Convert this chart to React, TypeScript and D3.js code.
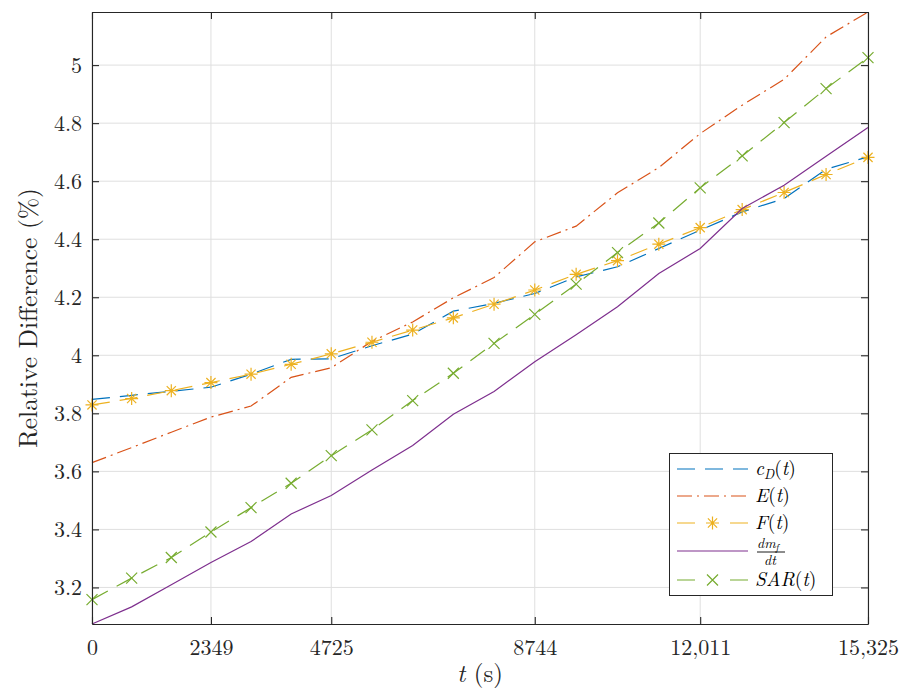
import React from 'react';
import * as d3 from 'd3';

const owidth = 905;
const oheight = 693;
const margin = { left: 92, right: 37, top: 12, bottom: 69 };
const iwidth = owidth - margin.left - margin.right;
const iheight = oheight - margin.top - margin.bottom;

// sample times (s)
const times = [0, 783, 1566, 2349, 3141, 3933, 4725, 5529, 6333, 7136, 7940, 8744,
  9561, 10378, 11194, 12011, 12840, 13668, 14497, 15325];
const xTickValues = [0, 2349, 4725, 8744, 12011, 15325];
const xTickLabels = ['0', '2349', '4725', '8744', '12,011', '15,325'];
const yTickValues = [3.2, 3.4, 3.6, 3.8, 4, 4.2, 4.4, 4.6, 4.8, 5];

const cD = [3.848, 3.862, 3.876, 3.89, 3.935, 3.986, 3.988, 4.033, 4.073, 4.152, 4.179, 4.213,
  4.27, 4.305, 4.368, 4.431, 4.494, 4.54, 4.641, 4.684];
const E = [3.63, 3.682, 3.735, 3.787, 3.825, 3.924, 3.957, 4.048, 4.115, 4.198, 4.268, 4.391,
  4.445, 4.56, 4.647, 4.764, 4.862, 4.951, 5.097, 5.183];
const F = [3.829, 3.851, 3.878, 3.906, 3.935, 3.969, 4.005, 4.045, 4.087, 4.129, 4.176, 4.225,
  4.279, 4.326, 4.383, 4.44, 4.502, 4.561, 4.623, 4.682];
const dmdt = [3.074, 3.133, 3.209, 3.286, 3.358, 3.453, 3.517, 3.605, 3.689, 3.797, 3.875, 3.978,
  4.071, 4.167, 4.282, 4.368, 4.506, 4.586, 4.686, 4.785];
const SAR = [3.158, 3.232, 3.303, 3.391, 3.475, 3.559, 3.654, 3.743, 3.844, 3.938, 4.041, 4.141,
  4.245, 4.354, 4.456, 4.577, 4.687, 4.802, 4.919, 5.026];

const blue = '#0072BD';
const red = '#D95319';
const yellow = '#EDB120';
const purple = '#7E2F8E';
const green = '#77AC30';
const axisColor = '#262626';
const serif = '"Latin Modern Roman", "Liberation Serif", serif';
const fontStyle = { fontFamily: serif };

const dashed = '18 10';
const dashDot = '15 5 2 5';

const series = [
  { key: 'cD', values: cD, color: blue, dash: dashed, marker: null },
  { key: 'E', values: E, color: red, dash: dashDot, marker: null },
  { key: 'F', values: F, color: yellow, dash: dashed, marker: 'star' },
  { key: 'dmdt', values: dmdt, color: purple, dash: null, marker: null },
  { key: 'SAR', values: SAR, color: green, dash: dashed, marker: 'x' },
];

const allValues = [...cD, ...E, ...F, ...dmdt, ...SAR];

const xScale = d3.scaleLinear().domain([0, d3.max(times)]).range([0, iwidth]);
const yScale = d3.scaleLinear().domain(d3.extent(allValues)).range([iheight, 0]);

function starPath(r) {
  const d = r * Math.SQRT1_2;
  return `M${-r},0L${r},0M0,${-r}L0,${r}M${-d},${-d}L${d},${d}M${-d},${d}L${d},${-d}`;
}
function crossPath(r) {
  return `M${-r},${-r}L${r},${r}M${-r},${r}L${r},${-r}`;
}

function Marker({ type, x, y, color }) {
  if (!type) return null;
  const d = type === 'star' ? starPath(6.5) : crossPath(5.5);
  return <path d={d} transform={`translate(${x},${y})`} stroke={color} strokeWidth={1.2} fill="none" />;
}

function LegendLabel({ k, x, y }) {
  const it = { fontStyle: 'italic' };
  if (k === 'cD') {
    return (
      <text x={x} y={y} fontSize={19.5} style={fontStyle}>
        <tspan style={it}>c</tspan>
        <tspan style={it} fontSize={13.5} dy={3.5}>D</tspan>
        <tspan dy={-3.5}>(</tspan><tspan style={it}>t</tspan><tspan>)</tspan>
      </text>
    );
  }
  if (k === 'E' || k === 'F' || k === 'SAR') {
    return (
      <text x={x} y={y} fontSize={19.5} style={fontStyle}>
        <tspan style={it}>{k}</tspan><tspan>(</tspan><tspan style={it}>t</tspan><tspan>)</tspan>
      </text>
    );
  }
  // fraction dm_f / dt
  return (
    <g>
      <text x={x + 2} y={y - 9} fontSize={14} style={fontStyle}>
        <tspan style={it}>dm</tspan>
        <tspan style={it} fontSize={10} dy={2.5}>f</tspan>
      </text>
      <line x1={x + 2} x2={x + 30} y1={y - 5} y2={y - 5} stroke="#000" strokeWidth={0.9} />
      <text x={x + 9} y={y + 8} fontSize={14} style={{ ...fontStyle, ...it }}>dt</text>
    </g>
  );
}

function App() {
  const svgRef = React.useRef(null);

  React.useEffect(() => {
    const el = d3.select(svgRef.current);

    const xAxis = d3.axisBottom(xScale)
      .tickValues(xTickValues)
      .tickFormat((d, i) => xTickLabels[i])
      .tickSizeInner(-7).tickSizeOuter(0).tickPadding(15);
    const yAxis = d3.axisLeft(yScale)
      .tickValues(yTickValues)
      .tickFormat(d3.format('~g'))
      .tickSizeInner(-7).tickSizeOuter(0).tickPadding(10);

    el.select('.xaxis').call(xAxis);
    el.select('.yaxis').call(yAxis);
    el.select('.xaxis-top').call(d3.axisTop(xScale).tickValues(xTickValues).tickFormat('')
      .tickSizeInner(-7).tickSizeOuter(0));
    el.select('.yaxis-right').call(d3.axisRight(yScale).tickValues(yTickValues).tickFormat('')
      .tickSizeInner(-7).tickSizeOuter(0));

    el.selectAll('.axis path.domain').attr('stroke', axisColor).attr('stroke-width', 1.1);
    el.selectAll('.axis .tick line').attr('stroke', axisColor).attr('stroke-width', 1.1);
    el.selectAll('.axis .tick text')
      .attr('fill', axisColor)
      .attr('font-size', 22)
      .style('font-family', serif);
  }, []);

  const line = d3.line()
    .x((d, i) => xScale(times[i]))
    .y(d => yScale(d));

  const legendRows = [469, 496, 523, 551, 580];

  return (
    <div style={{ position: 'absolute', left: 0, top: 0 }}>
      <svg ref={svgRef} width={owidth} height={oheight} viewBox={`0 0 ${owidth} ${oheight}`}
        style={{ display: 'block', background: '#fff', fontFamily: serif }}>
        <g transform={`translate(${margin.left},${margin.top})`}>
          <g className="grid">
            {xTickValues.map(t => (
              <line key={'gx' + t} x1={xScale(t)} x2={xScale(t)} y1={0} y2={iheight}
                stroke="#dfdfdf" strokeWidth={1} />
            ))}
            {yTickValues.map(v => (
              <line key={'gy' + v} x1={0} x2={iwidth} y1={yScale(v)} y2={yScale(v)}
                stroke="#dfdfdf" strokeWidth={1} />
            ))}
          </g>

          {series.map(s => (
            <g key={s.key}>
              <path d={line(s.values)} fill="none" stroke={s.color} strokeWidth={1.2}
                strokeDasharray={s.dash || undefined} />
              {s.values.map((v, i) => (
                <Marker key={i} type={s.marker} x={xScale(times[i])} y={yScale(v)} color={s.color} />
              ))}
            </g>
          ))}

          <g className="axis xaxis" transform={`translate(0,${iheight})`} />
          <g className="axis yaxis" />
          <g className="axis xaxis-top" />
          <g className="axis yaxis-right" transform={`translate(${iwidth},0)`} />
        </g>

        <g className="legend">
          <rect x={669.5} y={453.5} width={163} height={142} fill="#fff" stroke={axisColor} strokeWidth={1} />
          {series.map((s, i) => (
            <g key={s.key}>
              <line x1={677} x2={748} y1={legendRows[i]} y2={legendRows[i]} stroke={s.color}
                strokeWidth={1.2} strokeDasharray={s.marker ? '18 35 18' : (s.dash || undefined)} />
              <Marker type={s.marker} x={712.5} y={legendRows[i]} color={s.color} />
              <LegendLabel k={s.key} x={755} y={legendRows[i] + 6} />
            </g>
          ))}
        </g>

        <text transform={`translate(37,${margin.top + iheight / 2}) rotate(-90)`} textAnchor="middle"
          fontSize={25.5} fill={axisColor} style={fontStyle}>Relative Difference (%)</text>
        <text x={margin.left + iwidth / 2} y={682} textAnchor="middle" fontSize={25} fill={axisColor}
          style={fontStyle}>
          <tspan fontStyle="italic">t</tspan> (s)
        </text>
      </svg>
    </div>
  );
}

export default App;
